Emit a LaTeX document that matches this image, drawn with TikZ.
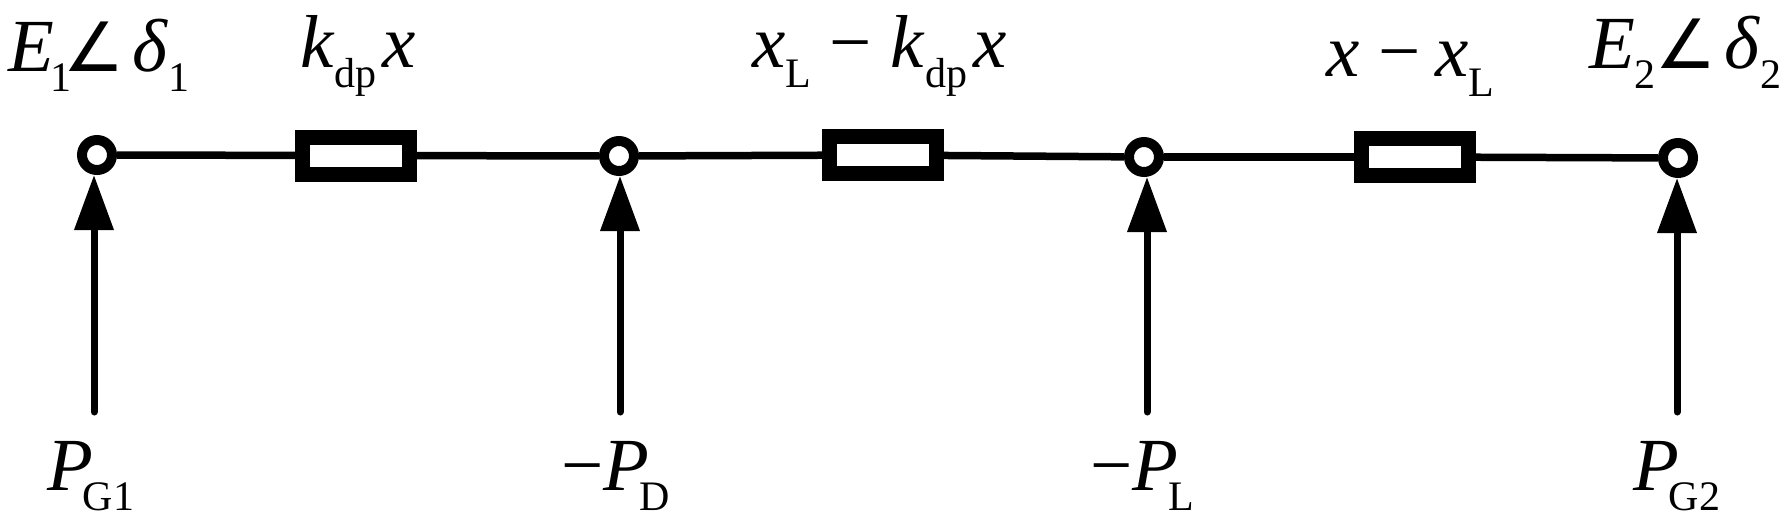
\documentclass[tikz,border=0pt]{standalone}
\usepackage{fontspec}
\setmainfont{Liberation Serif}
\newfontfamily\anglefont{DejaVu Sans}
\usetikzlibrary{arrows.meta}
\newlength{\du}
\setlength{\du}{1pt}
\newcommand{\sbs}[1]{\raisebox{-20pt}{\fontsize{42}{42}\selectfont #1}}
\newcommand{\ang}{{\anglefont\fontsize{68}{68}\selectfont ∠}\kern8pt}
\tikzset{
  busnode/.style={circle,draw=black,fill=white,line width=10\du,minimum size=30\du,inner sep=0pt},
  resbox/.style={rectangle,draw=black,fill=white,line width=15\du,minimum width=107\du,minimum height=37\du,inner sep=0pt},
  wire/.style={line width=7.5\du},
  inject/.style={line width=7\du,line cap=round,-{Triangle[length=55pt,width=38pt]}},
  lbl/.style={anchor=base west,inner sep=0pt,outer sep=0pt,font=\fontsize{75}{80}\selectfont}
}

\begin{document}
\begin{tikzpicture}
\pgftransformxscale{1.000000}
\pgftransformyscale{-1.000000}
\useasboundingbox (0\du,0\du) rectangle (1788\du,522\du);
% buses
\node[busnode] (bus1) at (97.000000\du,155.000000\du){};
\node[busnode] (bus2) at (619.000000\du,156.000000\du){};
\node[busnode] (bus3) at (1144.000000\du,157.000000\du){};
\node[busnode] (bus4) at (1678.000000\du,158.000000\du){};
% line sections
\node[resbox] (res1) at (356.000000\du,155.500000\du){};
\node[resbox] (res2) at (883.000000\du,155.000000\du){};
\node[resbox] (res3) at (1415.000000\du,157.000000\du){};
\draw[wire] (bus1) -- (res1);
\draw[wire] (res1) -- (bus2);
\draw[wire] (bus2) -- (res2);
\draw[wire] (res2) -- (bus3);
\draw[wire] (bus3) -- (res3);
\draw[wire] (res3) -- (bus4);
% injections
\coordinate (inj1) at (94.000000\du,412.000000\du);
\coordinate (inj2) at (620.000000\du,412.000000\du);
\coordinate (inj3) at (1147.000000\du,412.000000\du);
\coordinate (inj4) at (1677.000000\du,412.000000\du);
\draw[inject] (inj1) -- (inj1 |- bus1.south);
\draw[inject] (inj2) -- (inj2 |- bus2.south);
\draw[inject] (inj3) -- (inj3 |- bus3.south);
\draw[inject] (inj4) -- (inj4 |- bus4.south);
% upper labels
\node[lbl] (volt1) at (9.000000\du,71.000000\du){\textit{E}\kern-4pt\sbs{1}\kern-8pt\ang\textit{δ}\sbs{1}};
\node[lbl] (volt2) at (1589.000000\du,68.000000\du){\textit{E}\sbs{2}\ang\textit{δ}\sbs{2}};
\node[lbl] (react1) at (300.000000\du,67.000000\du){\textit{k}\sbs{dp}\kern6pt\textit{x}};
\node[lbl] (react2) at (752.000000\du,67.000000\du){\textit{x}\sbs{L} − \textit{k}\sbs{dp}\kern6pt\textit{x}};
\node[lbl] (react3) at (1326.000000\du,76.000000\du){\textit{x} − \kern-4pt\textit{x}\sbs{L}};
% lower labels
\node[lbl] (pow1) at (47.000000\du,490.000000\du){\textit{P}\kern-10pt\sbs{G1}};
\node[lbl] (pow2) at (561.000000\du,490.000000\du){−\textit{P}\kern-10pt\sbs{D}};
\node[lbl] (pow3) at (1090.000000\du,490.000000\du){−\textit{P}\kern-10pt\sbs{L}};
\node[lbl] (pow4) at (1633.000000\du,490.000000\du){\textit{P}\kern-10pt\sbs{G2}};
\end{tikzpicture}
\end{document}
